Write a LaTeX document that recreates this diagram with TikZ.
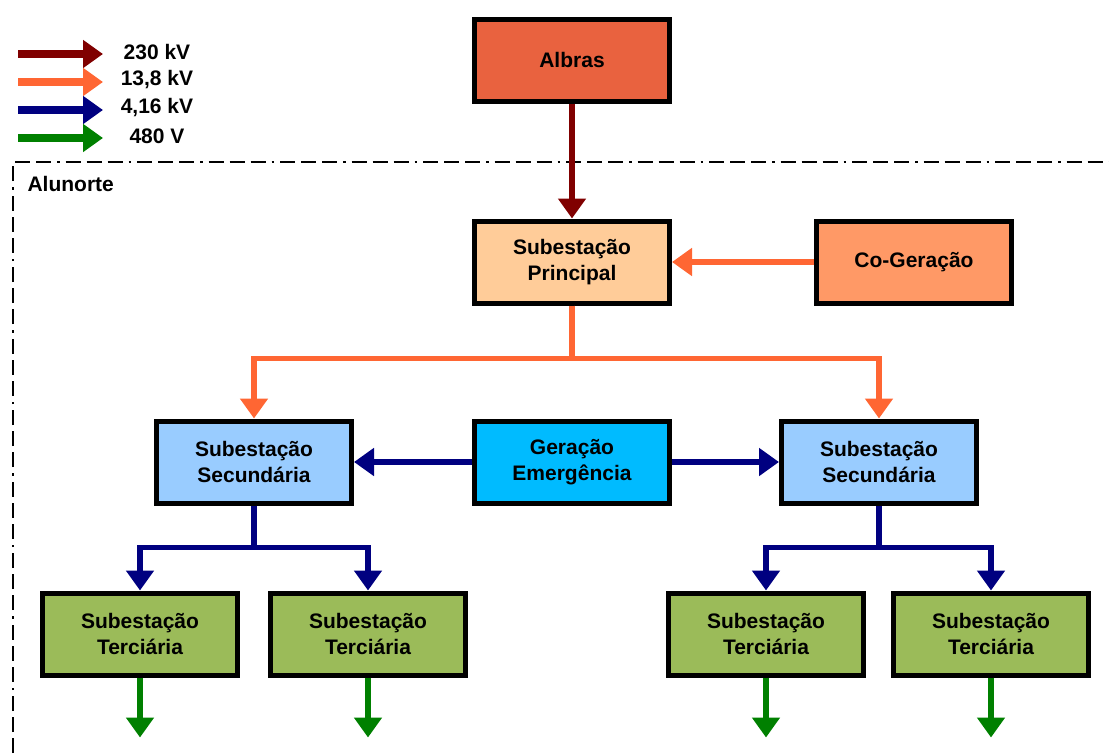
\documentclass[tikz,border=0pt]{standalone}
\usepackage{fontspec}
\setmainfont{Liberation Sans}
\usetikzlibrary{arrows.meta,positioning}

\definecolor{albras}{HTML}{E9623F}
\definecolor{principal}{HTML}{FFCC99}
\definecolor{cogeracao}{HTML}{FF9966}
\definecolor{secundaria}{HTML}{99CCFF}
\definecolor{emergencia}{HTML}{00BBFF}
\definecolor{terciaria}{HTML}{9BBB59}
\definecolor{c230}{HTML}{800000}
\definecolor{c138}{HTML}{FF6633}
\definecolor{c416}{HTML}{000080}
\definecolor{c480}{HTML}{008000}

\begin{document}
\begin{tikzpicture}[x=1pt,y=-1pt,->,>={Triangle[length=20pt,width=27pt]},
  box/.style={rectangle,draw=black,line width=5pt,minimum width=195pt,
  minimum height=82pt,align=center,font=\fontsize{21}{26}\selectfont\bfseries},
  txt/.style={font=\fontsize{21}{26}\selectfont\bfseries},
  line230/.style={draw=c230,line width=5.5pt},
  line138/.style={draw=c138,line width=5.5pt},
  line416/.style={draw=c416,line width=5.5pt},
  line480/.style={draw=c480,line width=5.5pt}]

  \useasboundingbox (0,0) rectangle (1109,753);

  % legenda
  \foreach \col/\lab/\yy [count=\i] in {c230/230 kV/54,c138/{13,8 kV}/82,
      c416/{4,16 kV}/110,c480/480 V/138} {
    \coordinate (legA\i) at (18,\yy);
    \coordinate (legB\i) at (103,\yy);
    \draw[draw=\col,line width=8pt] (legA\i) -- (legB\i);
    \node[txt] (leg\i) at (157,\yy-2) {\lab};
  }

  % Alunorte
  \draw[-,line width=1.5pt,dash pattern=on 15pt off 6pt on 15pt off 6pt
      on 15pt off 6pt on 2.5pt off 6pt] (13,753) -- (13,162) -- (1109,162);
  \node[txt,anchor=west] (alunorte) at (24,184) {Alunorte};

  \node[box,fill=albras]     (A)                          at (572,60) {Albras};
  \node[box,fill=principal]  (P)  [below=115pt of A]      {Subestação\\Principal};
  \node[box,fill=cogeracao]  (C)  [right=142pt of P]      {Co-Geração};
  \node[box,fill=emergencia] (G)  [below=113pt of P]      {Geração\\Emergência};
  \node[box,fill=secundaria] (SL) [left=118pt of G]       {Subestação\\Secundária};
  \node[box,fill=secundaria] (SR) [right=107pt of G]      {Subestação\\Secundária};
  \node[box,fill=terciaria]  (T1) [below=85pt of SL,xshift=-114pt] {Subestação\\Terciária};
  \node[box,fill=terciaria]  (T2) [below=85pt of SL,xshift=114pt]  {Subestação\\Terciária};
  \node[box,fill=terciaria]  (T3) [below=85pt of SR,xshift=-113pt] {Subestação\\Terciária};
  \node[box,fill=terciaria]  (T4) [below=85pt of SR,xshift=112pt]  {Subestação\\Terciária};

  \draw[line230] (A) -- (P);
  \draw[line138] (C) -- (P);
  \draw[line138] (P.south) -- ++(0,53) -| (SL.north);
  \draw[line138] (P.south) -- ++(0,53) -| (SR.north);

  \draw[line416] (G) -- (SL);
  \draw[line416] (G) -- (SR);
  \draw[line416] (SL.south) -- ++(0,42) -| (T1.north);
  \draw[line416] (SL.south) -- ++(0,42) -| (T2.north);
  \draw[line416] (SR.south) -- ++(0,42) -| (T3.north);
  \draw[line416] (SR.south) -- ++(0,42) -| (T4.north);

  \foreach \t in {T1,T2,T3,T4}
    \draw[line480] (\t.south) -- ++(0,60) coordinate (\t end);

\end{tikzpicture}
\end{document}
